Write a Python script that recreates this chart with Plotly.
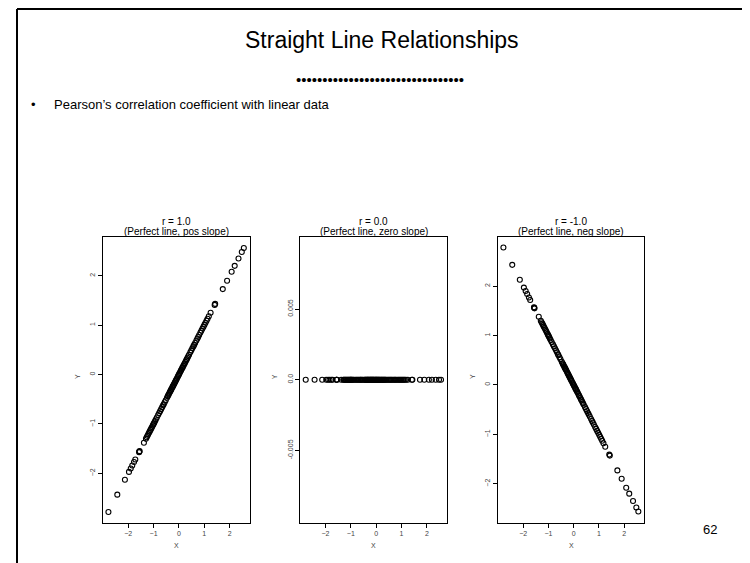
import plotly.graph_objects as go

# x values (same sample in each)
x_vals = [
    -2.78, -2.43, -2.13, -1.97, -1.90, -1.84, -1.77, -1.72, -1.57, -1.56, -1.55,
    -1.38, -1.30, -1.27, -1.24, -1.21, -1.18, -1.15, -1.12, -1.09, -1.06,
    -1.03, -1.01, -0.99, -0.97, -0.94, -0.91, -0.87, -0.82, -0.78, -0.74,
    -0.70, -0.66, -0.62, -0.60, -0.56, -0.52, -0.47, -0.44, -0.42, -0.40,
    -0.37, -0.35, -0.33, -0.31, -0.29, -0.26, -0.24, -0.22, -0.20, -0.18,
    -0.16, -0.14, -0.12, -0.10, -0.08, -0.05, -0.03, -0.01,
    0.01, 0.03, 0.06, 0.08, 0.10, 0.13, 0.15, 0.18, 0.21, 0.23,
    0.26, 0.29, 0.31, 0.34, 0.37, 0.40, 0.45, 0.49, 0.53, 0.57,
    0.60, 0.64, 0.69, 0.73, 0.76, 0.80, 0.85, 0.89, 0.93, 0.97,
    1.01, 1.05, 1.09, 1.13, 1.18, 1.25,
    1.41, 1.43, 1.73, 1.90, 2.08, 2.20, 2.35, 2.48, 2.56,
]

# panel 1: r = 1.0
y_pos = [
    -2.78, -2.43, -2.13, -1.97, -1.90, -1.84, -1.77, -1.72, -1.57, -1.56, -1.55,
    -1.38, -1.30, -1.27, -1.24, -1.21, -1.18, -1.15, -1.12, -1.09, -1.06,
    -1.03, -1.01, -0.99, -0.97, -0.94, -0.91, -0.87, -0.82, -0.78, -0.74,
    -0.70, -0.66, -0.62, -0.60, -0.56, -0.52, -0.47, -0.44, -0.42, -0.40,
    -0.37, -0.35, -0.33, -0.31, -0.29, -0.26, -0.24, -0.22, -0.20, -0.18,
    -0.16, -0.14, -0.12, -0.10, -0.08, -0.05, -0.03, -0.01,
    0.01, 0.03, 0.06, 0.08, 0.10, 0.13, 0.15, 0.18, 0.21, 0.23,
    0.26, 0.29, 0.31, 0.34, 0.37, 0.40, 0.45, 0.49, 0.53, 0.57,
    0.60, 0.64, 0.69, 0.73, 0.76, 0.80, 0.85, 0.89, 0.93, 0.97,
    1.01, 1.05, 1.09, 1.13, 1.18, 1.25,
    1.41, 1.43, 1.73, 1.90, 2.08, 2.20, 2.35, 2.48, 2.56,
]

# panel 2: r = 0.0
y_zero = [0.0] * len(x_vals)

# panel 3: r = -1.0
y_neg = [
    2.78, 2.43, 2.13, 1.97, 1.90, 1.84, 1.77, 1.72, 1.57, 1.56, 1.55,
    1.38, 1.30, 1.27, 1.24, 1.21, 1.18, 1.15, 1.12, 1.09, 1.06,
    1.03, 1.01, 0.99, 0.97, 0.94, 0.91, 0.87, 0.82, 0.78, 0.74,
    0.70, 0.66, 0.62, 0.60, 0.56, 0.52, 0.47, 0.44, 0.42, 0.40,
    0.37, 0.35, 0.33, 0.31, 0.29, 0.26, 0.24, 0.22, 0.20, 0.18,
    0.16, 0.14, 0.12, 0.10, 0.08, 0.05, 0.03, 0.01,
    -0.01, -0.03, -0.06, -0.08, -0.10, -0.13, -0.15, -0.18, -0.21, -0.23,
    -0.26, -0.29, -0.31, -0.34, -0.37, -0.40, -0.45, -0.49, -0.53, -0.57,
    -0.60, -0.64, -0.69, -0.73, -0.76, -0.80, -0.85, -0.89, -0.93, -0.97,
    -1.01, -1.05, -1.09, -1.13, -1.18, -1.25,
    -1.41, -1.43, -1.73, -1.90, -2.08, -2.20, -2.35, -2.48, -2.56,
]

panel_titles = [
    ("r = 1.0", "(Perfect line, pos slope)"),
    ("r = 0.0", "(Perfect line, zero slope)"),
    ("r = -1.0", "(Perfect line, neg slope)"),
]
x_ticks = [-2, -1, 0, 1, 2]
y_ticks_line = [-2, -1, 0, 1, 2]
y_ticks_zero = [-0.005, 0.0, 0.005]
y_ticktext_zero = ["-0.005", "0.0", "0.005"]

FONT = "Liberation Sans, Arial, sans-serif"
W, H = 750, 563
OFF = 8  # page body margin, the figure is drawn 8px in from the window edge


# page pixel -> paper fraction
def px(x):
    return (x - OFF) / W


def py(y):
    return 1 - (y - OFF) / H


def label(text, x, y, size, color="black", **kw):
    fig.add_annotation(text=text, x=px(x), y=py(y), xref="paper", yref="paper",
                       showarrow=False, xanchor=kw.pop("xanchor", "center"),
                       yanchor="middle", font=dict(family=FONT, size=size, color=color),
                       **kw)


# pixel boxes of the three panels
panel_px = [(103, 249.5), (300.3, 446.7), (498, 644)]
y_top, y_bot = 237, 522.5

fig = go.Figure()
series = [y_pos, y_zero, y_neg]
for i, ys in enumerate(series):
    suffix = "" if i == 0 else str(i + 1)
    fig.add_trace(go.Scatter(
        x=x_vals, y=ys, mode="markers",
        xaxis="x" + suffix, yaxis="y" + suffix,
        marker=dict(symbol="circle-open", size=5, color="black",
                    line=dict(width=1.1, color="black")),
        showlegend=False, hoverinfo="skip",
    ))

axis_common = dict(
    showline=True, mirror=True, linecolor="black", linewidth=1,
    showgrid=False, zeroline=False, ticks="outside", ticklen=4,
    tickcolor="black", tickfont=dict(family=FONT, size=7, color="#444"),
)

xranges = [[-2.994, 2.784], [-2.994, 2.784], [-2.994, 2.784]]
yranges = [[-2.994, 2.784], [-0.0101, 0.0101], [-2.784, 2.994]]

for i in range(3):
    suffix = "" if i == 0 else str(i + 1)
    x0, x1 = panel_px[i]
    fig.layout["xaxis" + suffix] = dict(
        axis_common, domain=[px(x0), px(x1)], range=xranges[i],
        tickvals=x_ticks, anchor="y" + suffix,
    )
    yax = dict(axis_common, domain=[py(y_bot), py(y_top)], range=yranges[i],
               tickangle=-90, anchor="x" + suffix)
    if i == 1:
        yax.update(tickvals=y_ticks_zero, ticktext=y_ticktext_zero)
    else:
        yax.update(tickvals=y_ticks_line)
    fig.layout["yaxis" + suffix] = yax

    cx = (x0 + x1) / 2
    # panel titles
    label(panel_titles[i][0], cx, 222, 10)
    label(panel_titles[i][1], cx, 231.5, 10)
    # axis labels
    label("X", cx, 545, 7, color="#444")
    label("Y", x0 - 26, 377, 7, color="#444", textangle=-90)

# slide text
label("Straight Line Relationships", 382, 40, 23)
label("•" * 32, 380, 79, 15)
label("•", 33, 104, 13)
label("Pearson’s correlation coefficient with linear data", 52, 104, 13,
      xanchor="left")
label("62", 710, 529, 13)

# slide border (top and left edges)
fig.add_shape(type="line", xref="paper", yref="paper",
              x0=px(17), x1=1, y0=1 - 1 / H, y1=1 - 1 / H,
              line=dict(color="black", width=2))
fig.add_shape(type="line", xref="paper", yref="paper",
              x0=px(17), x1=px(17), y0=0, y1=1 - 1 / H,
              line=dict(color="black", width=2))

fig.update_layout(
    width=W, height=H,
    margin=dict(l=0, r=0, t=0, b=0),
    paper_bgcolor="white",
    plot_bgcolor="white",
    font=dict(family=FONT, color="black"),
)

fig.write_html("out.html")
